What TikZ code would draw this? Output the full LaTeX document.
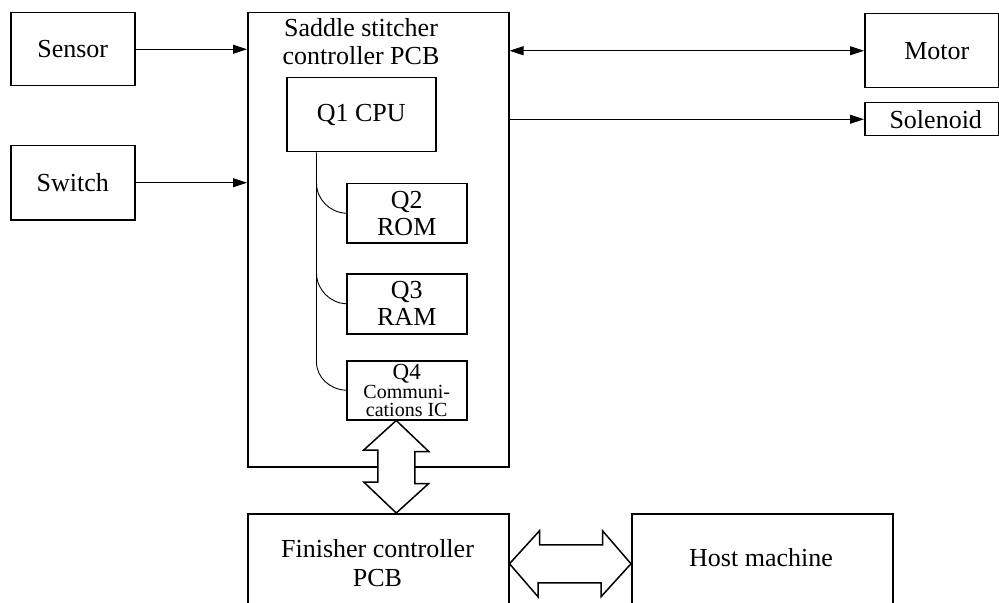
\documentclass[tikz,border=0pt]{standalone}
\usepackage{fontspec}
\setmainfont{Liberation Serif}
\usetikzlibrary{arrows.meta,calc}
\begin{document}
\begin{tikzpicture}[x=1bp,y=-1bp,
  txt/.style={font=\fontsize{26bp}{28bp}\selectfont, inner sep=0pt, align=center},
  box/.style={draw, line width=1.5bp, inner sep=0pt, anchor=north west},
  arr/.style={line width=0.9bp, -{Triangle[length=14bp,width=9bp]}},
  arrb/.style={line width=0.9bp, {Triangle[length=14bp,width=9bp]}-{Triangle[length=14bp,width=9bp]}},
  thin/.style={line width=0.9bp},
  dbl/.style={draw, fill=white, line width=1.5bp, line join=miter}]
\useasboundingbox (0,0) rectangle (999,603);
\clip (0,0) rectangle (999,603);
% outer boxes
\node[box, minimum width=124bp, minimum height=73bp] (sensor) at (10,12) {};
\node[txt] at (sensor.center) {Sensor};
\node[box, minimum width=124bp, minimum height=74bp] (switch) at (10,145) {};
\node[txt] at (switch.center) {Switch};
\node[box, minimum width=261bp, minimum height=454bp] (saddle) at (247,12) {};
\node[txt] (title) at (361,42) {Saddle stitcher\\controller PCB};
\node[box, minimum width=149bp, minimum height=74bp] (q1) at (286,77) {};
\node[txt] at (q1.center) {Q1 CPU};
\node[box, minimum width=120bp, minimum height=59bp] (q2) at (346,183) {};
\node[txt, font=\fontsize{26bp}{27bp}\selectfont] at (q2.center) {Q2\\ROM};
\node[box, minimum width=120bp, minimum height=60bp] (q3) at (346,273) {};
\node[txt, font=\fontsize{26bp}{27bp}\selectfont] at (q3.center) {Q3\\RAM};
\node[box, minimum width=120bp, minimum height=59bp] (q4) at (346,360) {};
\node[txt, font=\fontsize{20bp}{18.5bp}\selectfont] at ($(q4.center)+(0,0.5)$) {{\fontsize{23bp}{19bp}\selectfont Q4}\\Communi-\\cations IC};
\node[box, minimum width=134bp, minimum height=74bp] (motor) at (864,13) {};
\node[txt] at ($(motor.center)+(5,0)$) {Motor};
\node[box, minimum width=134bp, minimum height=33bp] (sol) at (864,102) {};
\node[txt] at ($(sol.center)+(4,0)$) {Solenoid};
\node[box, minimum width=261bp, minimum height=100bp] (fin) at (247,513) {};
\node[txt, font=\fontsize{26bp}{29bp}\selectfont] at (377.5,563) {Finisher controller\\PCB};
\node[box, minimum width=261bp, minimum height=100bp] (host) at (631,513) {};
\node[txt, anchor=base] at (761,566) {Host machine};
% connectors
\draw[arr] (sensor.east) -- (sensor.east -| saddle.west);
\draw[arr] (switch.east) -- (switch.east -| saddle.west);
\draw[arrb] (saddle.east |- motor.west) -- (motor.west);
\draw[arr] (saddle.east |- sol.west) -- (sol.west);
% internal bus
\coordinate (bus) at (316.5,0);
\draw[thin] (bus |- q1.south) -- (316.5,362) .. controls (316.5,377.5) and (329.9,389.5) .. (q4.west);
\draw[thin] (316.5,183) .. controls (316.5,199.5) and (329.9,212.5) .. (q2.west);
\draw[thin] (316.5,273) .. controls (316.5,289.5) and (329.9,303) .. (q3.west);
% double arrows
\path (q4.south) ++(-10.5,0) coordinate (va);
\coordinate (vb) at (va |- fin.north);
\draw[dbl] (va) -- ++(32.5,31) -- ++(-14,0) -- ++(0,32) -- ++(14,0) -- (vb)
  -- ++(-32.5,-31) -- ++(14,0) -- ++(0,-32) -- ++(-14,0) -- cycle;
\draw[dbl] (fin.east) -- ++(30,-33) -- ++(0,14) -- ++(63,0) -- ++(0,-14) -- (host.west)
  -- ++(-30,33) -- ++(0,-14) -- ++(-63,0) -- ++(0,14) -- cycle;
\end{tikzpicture}
\end{document}
